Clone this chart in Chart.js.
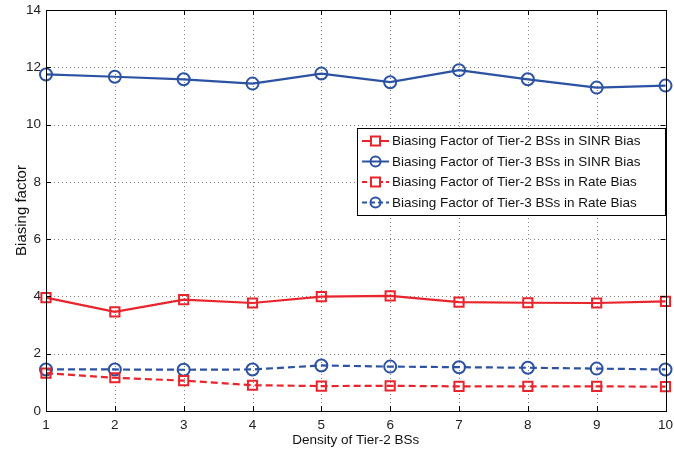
<!DOCTYPE html>
<html>
<head>
<meta charset="utf-8">
<script src="https://cdn.jsdelivr.net/npm/chart.js@4/dist/chart.umd.min.js"></script>
<style>
  html, body { margin: 0; padding: 0; background: #fff; }
  #wrap { width: 674px; height: 456px; }
</style>
</head>
<body>
<div id="wrap"><canvas id="c" width="674" height="456"></canvas></div>
<script>
// Density of Tier-2 BSs (x axis)
const density = [1, 2, 3, 4, 5, 6, 7, 8, 9, 10];

// Biasing factors per scheme
const tier2Sinr = [3.96, 3.46, 3.89, 3.77, 3.99, 4.02, 3.80, 3.78, 3.77, 3.83];
const tier3Sinr = [11.75, 11.67, 11.58, 11.43, 11.78, 11.48, 11.90, 11.58, 11.29, 11.36];
const tier2Rate = [1.32, 1.16, 1.06, 0.90, 0.87, 0.88, 0.86, 0.86, 0.86, 0.85];
const tier3Rate = [1.45, 1.45, 1.44, 1.45, 1.59, 1.55, 1.53, 1.51, 1.48, 1.45];

const seriesNames = [
  'Biasing Factor of Tier-2 BSs in SINR Bias',
  'Biasing Factor of Tier-3 BSs in SINR Bias',
  'Biasing Factor of Tier-2 BSs in Rate Bias',
  'Biasing Factor of Tier-3 BSs in Rate Bias'
];

const yTicks = [0, 2, 4, 6, 8, 10, 12, 14];

const RED = '#e8242c';
const BLUE = '#2b52a3';
const FONT = '"Liberation Sans", Arial, sans-serif';

function pts(vals) { return density.map((d, i) => ({ x: d, y: vals[i] })); }

function ds(label, vals, color, marker, dashed) {
  return {
    label,
    data: pts(vals),
    borderColor: color,
    backgroundColor: 'rgba(0,0,0,0)',
    borderWidth: 2.2,
    borderDash: dashed ? [7, 4] : [],
    pointStyle: marker,
    pointRadius: marker === 'rect' ? 6.5 : 6,
    pointBorderWidth: 2,
    pointBorderColor: color,
    pointBackgroundColor: 'rgba(0,0,0,0)',
    tension: 0,
    clip: false
  };
}

// Dotted grid drawn beneath the series
const dottedGridPlugin = {
  id: 'dottedGrid',
  beforeDatasetsDraw(chart) {
    const { ctx, chartArea: a, scales } = chart;
    ctx.save();
    ctx.strokeStyle = 'rgba(0,0,0,0.5)';
    ctx.lineWidth = 1;
    ctx.setLineDash([1, 3]);
    ctx.beginPath();
    yTicks.forEach(v => {
      const y = Math.round(scales.y.getPixelForValue(v)) + 0.5;
      ctx.moveTo(a.left, y); ctx.lineTo(a.right, y);
    });
    density.forEach(v => {
      const x = Math.round(scales.x.getPixelForValue(v)) + 0.5;
      ctx.moveTo(x, a.top); ctx.lineTo(x, a.bottom);
    });
    ctx.stroke();
    ctx.restore();
  }
};

// Box around the axes plus inward tick marks
const framePlugin = {
  id: 'frame',
  afterDraw(chart) {
    const { ctx, chartArea: a, scales } = chart;
    ctx.save();
    ctx.strokeStyle = '#000';
    ctx.lineWidth = 1;
    ctx.setLineDash([]);
    ctx.beginPath();
    yTicks.forEach(v => {
      const y = Math.round(scales.y.getPixelForValue(v)) + 0.5;
      ctx.moveTo(a.left, y); ctx.lineTo(a.left + 5, y);
      ctx.moveTo(a.right, y); ctx.lineTo(a.right - 5, y);
    });
    density.forEach(v => {
      const x = Math.round(scales.x.getPixelForValue(v)) + 0.5;
      ctx.moveTo(x, a.bottom); ctx.lineTo(x, a.bottom - 5);
      ctx.moveTo(x, a.top); ctx.lineTo(x, a.top + 5);
    });
    ctx.stroke();
    ctx.strokeRect(Math.round(a.left) + 0.5, Math.round(a.top) + 0.5,
                   Math.round(a.right - a.left), Math.round(a.bottom - a.top));
    ctx.restore();
  }
};

// Boxed legend placed inside the plot area
const boxLegendPlugin = {
  id: 'boxLegend',
  afterDraw(chart) {
    const { ctx } = chart;
    const x0 = 357, y0 = 128, w = 308, h = 87;
    ctx.save();
    ctx.fillStyle = '#fff';
    ctx.fillRect(x0, y0, w, h);
    ctx.strokeStyle = '#000';
    ctx.lineWidth = 1;
    ctx.setLineDash([]);
    ctx.strokeRect(x0 + 0.5, y0 + 0.5, w, h);
    ctx.font = '13.5px ' + FONT;
    ctx.textBaseline = 'middle';
    chart.data.datasets.forEach((d, i) => {
      const y = y0 + 13 + i * 20.5;
      const lx0 = x0 + 5, lx1 = x0 + 32, mx = (lx0 + lx1) / 2;
      ctx.strokeStyle = d.borderColor;
      ctx.lineWidth = 2;
      ctx.setLineDash(d.borderDash.length ? [5, 3] : []);
      ctx.beginPath();
      ctx.moveTo(lx0, y); ctx.lineTo(lx1, y);
      ctx.stroke();
      ctx.setLineDash([]);
      ctx.beginPath();
      if (d.pointStyle === 'rect') {
        ctx.fillStyle = '#fff';
        ctx.fillRect(mx - 4.5, y - 4.5, 9, 9);
        ctx.strokeRect(mx - 4.5, y - 4.5, 9, 9);
      } else {
        ctx.arc(mx, y, 5, 0, Math.PI * 2);
        ctx.stroke();
      }
      ctx.fillStyle = '#111';
      ctx.fillText(d.label, x0 + 35, y + 0.5);
    });
    ctx.restore();
  }
};

new Chart(document.getElementById('c'), {
  type: 'line',
  data: {
    datasets: [
      ds(seriesNames[0], tier2Sinr, RED, 'rect', false),
      ds(seriesNames[1], tier3Sinr, BLUE, 'circle', false),
      ds(seriesNames[2], tier2Rate, RED, 'rect', true),
      ds(seriesNames[3], tier3Rate, BLUE, 'circle', true)
    ]
  },
  options: {
    responsive: false,
    animation: false,
    devicePixelRatio: 1,
    layout: { padding: { top: 10, right: 8, left: 11, bottom: 0 } },
    plugins: { legend: { display: false }, tooltip: { enabled: false } },
    scales: {
      x: {
        type: 'linear',
        min: 1, max: 10,
        afterBuildTicks(s) { s.ticks = density.map(v => ({ value: v })); },
        afterFit(s) { s.height = 45; s.paddingLeft = 0; s.paddingRight = 0; },
        grid: { display: false, drawTicks: false },
        border: { display: false },
        ticks: { color: '#222', font: { family: FONT, size: 13.5 }, padding: 6, maxRotation: 0 },
        title: { display: true, text: 'Density of Tier-2 BSs', color: '#111', font: { family: FONT, size: 13.5 }, padding: { top: 0, bottom: 8 } }
      },
      y: {
        type: 'linear',
        min: 0, max: 14,
        afterBuildTicks(s) { s.ticks = yTicks.map(v => ({ value: v })); },
        afterFit(s) { s.width = 35; s.paddingTop = 0; s.paddingBottom = 0; },
        grid: { display: false, drawTicks: false },
        border: { display: false },
        ticks: { color: '#222', font: { family: FONT, size: 13.5 }, padding: 5 },
        title: { display: true, text: 'Biasing factor', color: '#111', font: { family: FONT, size: 15 }, padding: { top: 2, bottom: 2 } }
      }
    }
  },
  plugins: [dottedGridPlugin, framePlugin, boxLegendPlugin]
});
</script>
</body>
</html>
